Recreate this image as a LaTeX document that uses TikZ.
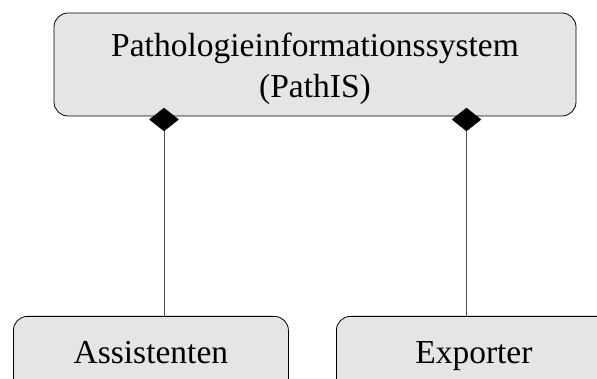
\documentclass[tikz,border=0pt]{standalone}
\usepackage{fontspec}
\setmainfont{Liberation Serif}
\usepackage{tikz}
\usetikzlibrary{shapes.geometric, positioning, calc}

\begin{document}
\begin{tikzpicture}[x=1pt, y=-1pt,
    box/.style={draw=black, fill=boxfill, rounded corners=14pt, line width=0.8pt,
                inner sep=0pt},
    boxtext/.style={font=\fontsize{33.5}{41}\selectfont, anchor=base, inner sep=0pt},
    part/.style={diamond, fill=black, draw=black, inner sep=0pt,
                 minimum width=29pt, minimum height=23pt, aspect=1.27},
    link/.style={draw=black!70, line width=0.8pt}]

% ── Colour palette ──────────────────────────────────────────
\colorlet{boxfill}{black!10}

\useasboundingbox (0,0) rectangle (597,379);
\clip (0,0) rectangle (597,379);

% ── Whole system ────────────────────────────────────────────
\node[box, minimum width=522pt, minimum height=103pt] (pathis) at (315, 64.5) {};
\node[boxtext] (pathislbl) at (pathis.north |- 0,57) {Pathologieinformationssystem};
\node[boxtext] (pathisabbr) at (pathis.north |- 0,98) {(PathIS)};

% ── Composition diamonds ────────────────────────────────────
\node[part] (dA) at (164, 119.5) {};
\node[part] (dE) at (466.5, 119.5) {};

% ── Parts ───────────────────────────────────────────────────
\node[box, minimum width=275pt, minimum height=120pt, anchor=north west] (asst)
    at (13, 316) {};
\node[box, minimum width=275pt, minimum height=120pt, anchor=north west] (expo)
    at (336, 316) {};
\node[boxtext] (asstlbl) at (asst.north |- 0,363) {Assistenten};
\node[boxtext] (expolbl) at (expo.north |- 0,363) {Exporter};

% ── Connectors ──────────────────────────────────────────────
\draw[link] (dA.south) -- (dA.south |- asst.north);
\draw[link] (dE.south) -- (dE.south |- expo.north);

\end{tikzpicture}
\end{document}
